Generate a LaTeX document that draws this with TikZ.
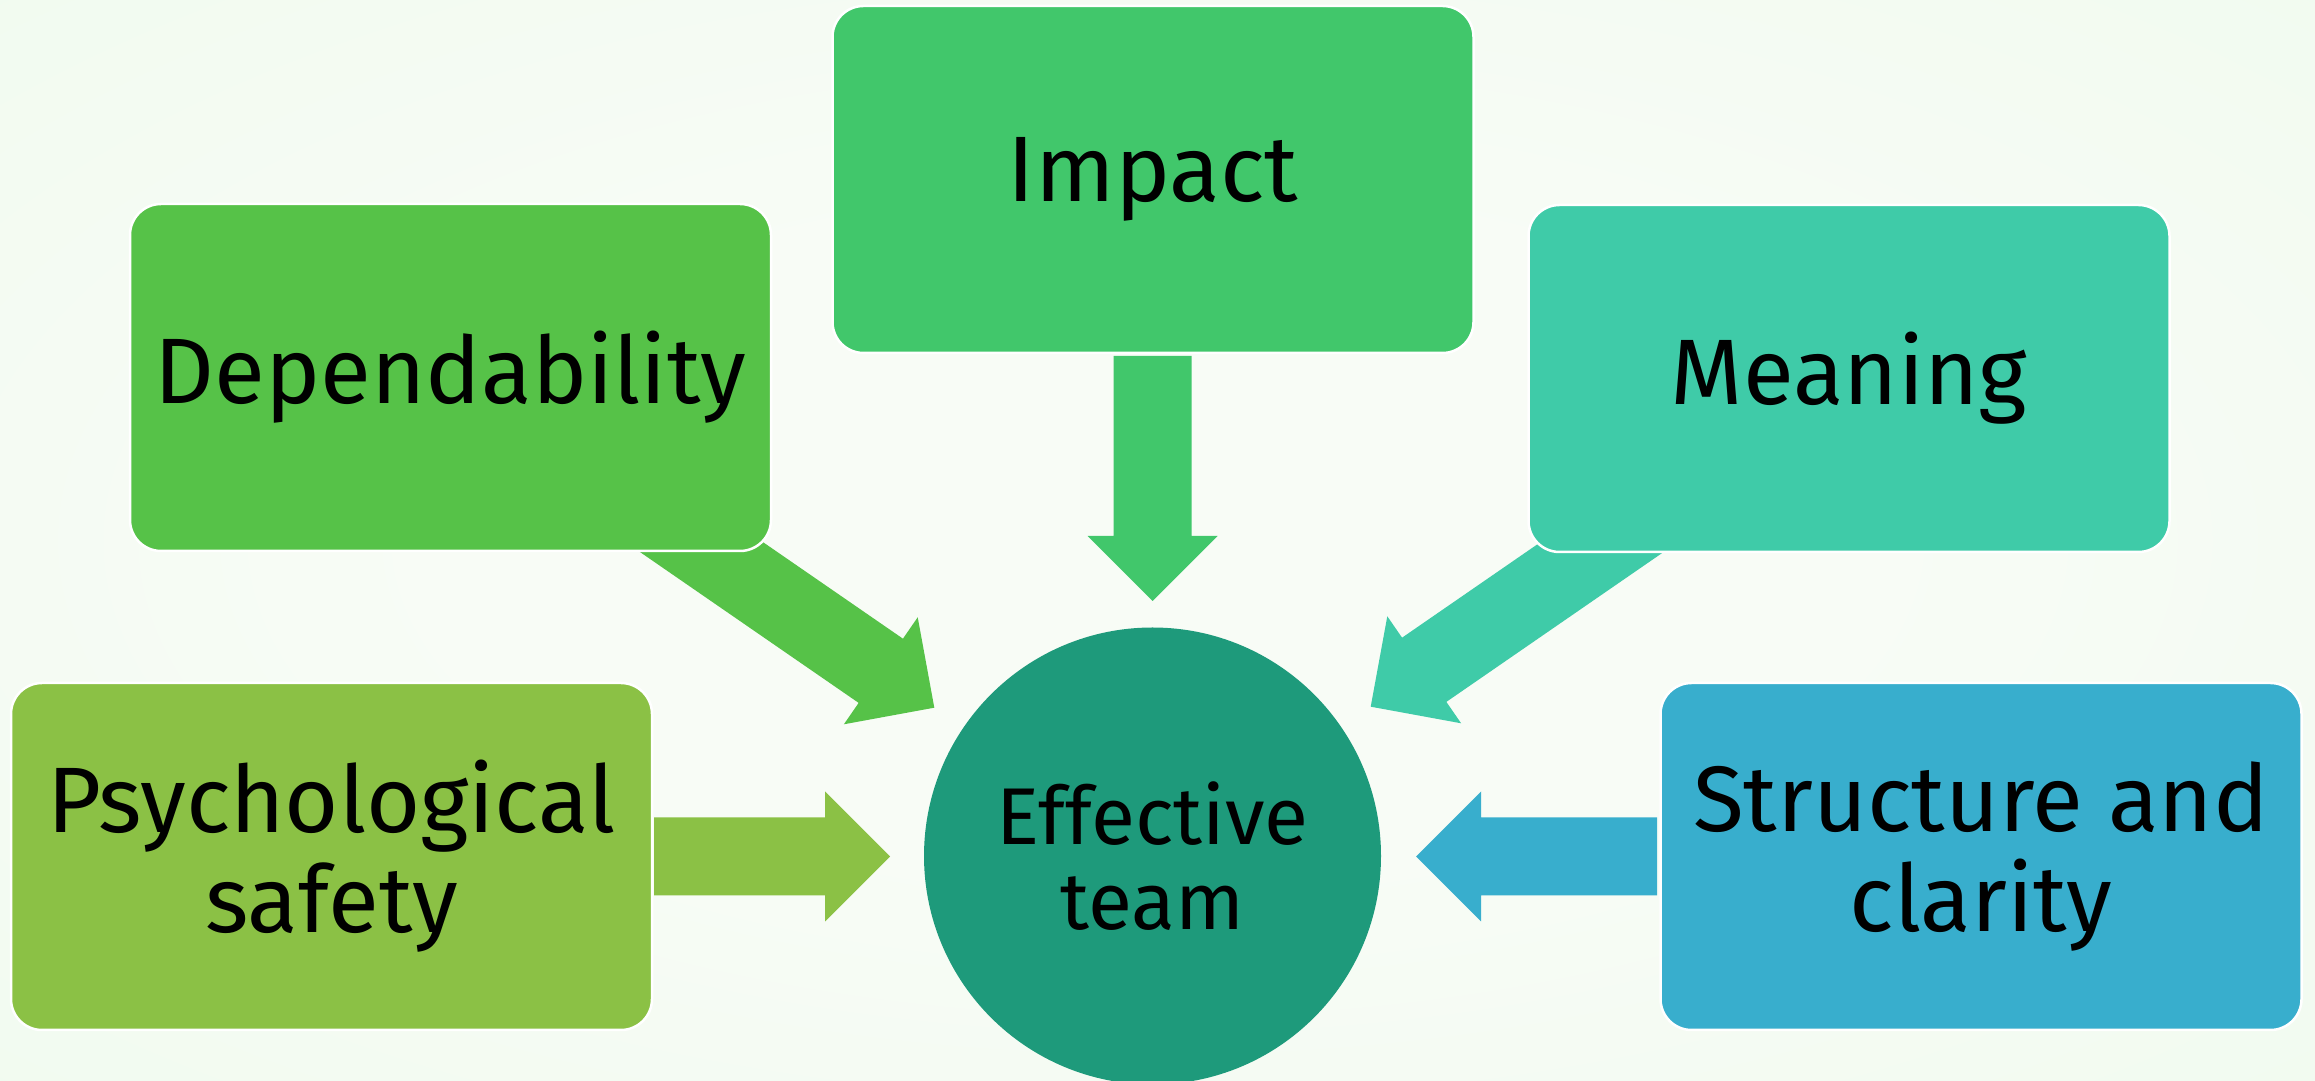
\documentclass[tikz,border=0pt]{standalone}
\usepackage{fontspec}
\setmainfont{Fira Sans}
\definecolor{bgin}{HTML}{F8FCF6}
\definecolor{bgout}{HTML}{E6F8E6}
\definecolor{cdep}{HTML}{56C248}
\definecolor{cimp}{HTML}{41C76B}
\definecolor{cmea}{HTML}{3FCBA8}
\definecolor{cstr}{HTML}{38AECD}
\definecolor{cpsy}{HTML}{8BC145}
\definecolor{ccir}{HTML}{1E9A7B}
\pgfdeclareradialshading{bgshade}{\pgfpoint{0bp}{0bp}}{color(0bp)=(bgin); color(15bp)=(bgin); color(71bp)=(bgout)}
\newcommand{\blockarr}[4]{%
  \fill[#4, shift={(#1)}, rotate=#2] (0,0) -- (-65,65) -- (-65,39) -- (-#3,39) -- (-#3,-39) -- (-65,-39) -- (-65,-65) -- cycle;}
\tikzset{
  box/.style={rectangle, rounded corners=31pt, minimum width=641pt, minimum height=347pt,
    inner sep=0pt, draw=white, line width=2.5pt, text=black, align=center,
    font=\fontsize{93}{100}\selectfont},
  hub/.style={circle, minimum size=457pt, inner sep=0pt, text=black, align=center,
    font=\fontsize{80.5}{85.6}\selectfont}
}
\begin{document}
\begin{tikzpicture}[x=1pt,y=1pt]
\useasboundingbox (0,0) rectangle (2315,1081);
\shade[shading=bgshade] (0,0) rectangle (2315,1081);
% arrow tips
\coordinate (tImp) at (1152.5,480);
\coordinate (tDep) at (934.3,373.3);
\coordinate (tMea) at (1370.7,374.3);
\coordinate (tPsy) at (890,224.5);
\coordinate (tStr) at (1416,224.5);
\blockarr{tImp}{-90}{245}{cimp}
\blockarr{tDep}{-34.6}{335}{cdep}
\blockarr{tMea}{214.6}{335}{cmea}
\blockarr{tPsy}{0}{236}{cpsy}
\blockarr{tStr}{180}{241}{cstr}
% boxes
\node[box, fill=cdep] (dep) at (450.5,703.5) {Dependability};
\node[box, fill=cimp] (imp) at (1153,901.5) {Impact};
\node[box, fill=cmea] (mea) at (1849,702.5) {Meaning};
\node[box, fill=cpsy] (psy) at (331.5,224.5) {Psychological\\safety};
\node[box, fill=cstr] (str) at (1981,224.5) {Structure and\\clarity};
\node[hub, fill=ccir] (team) at (1152.5,225) {Effective\\team};
\end{tikzpicture}
\end{document}
